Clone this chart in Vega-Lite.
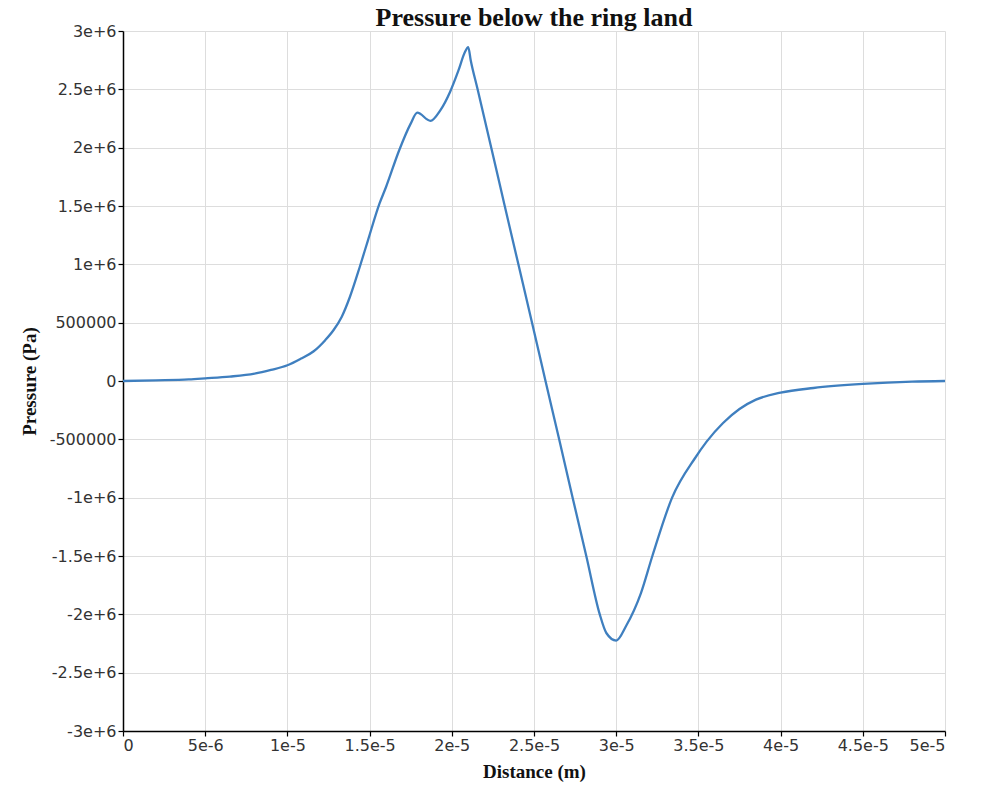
{
  "$schema": "https://vega.github.io/schema/vega-lite/v6.json",
  "width": 822,
  "height": 700,
  "autosize": "none",
  "padding": {"left": 123, "top": 31, "right": 36, "bottom": 55},
  "background": "white",
  "title": {
    "text": "Pressure below the ring land",
    "font": "Liberation Serif",
    "fontSize": 26,
    "fontWeight": "bold",
    "color": "#111",
    "offset": -8,
    "anchor": "middle"
  },
  "config": {
    "view": {"stroke": null},
    "axis": {
      "domainColor": "#000",
      "domainWidth": 1.5,
      "tickColor": "#000",
      "tickSize": 5,
      "tickWidth": 1.2,
      "gridColor": "#dddddd",
      "gridWidth": 1,
      "labelFont": "DejaVu Sans",
      "labelFontSize": 16,
      "labelColor": "#333",
      "titleFont": "Liberation Serif",
      "titleFontSize": 19,
      "titleFontWeight": "bold",
      "titleColor": "#111"
    }
  },
  "data": {
    "values": [
      {"distance": 0.0, "pressure": 0},
      {"distance": 0.000002, "pressure": 6000},
      {"distance": 0.000004, "pressure": 14000},
      {"distance": 0.000005, "pressure": 23000},
      {"distance": 0.0000065, "pressure": 38000},
      {"distance": 0.000008, "pressure": 63000},
      {"distance": 0.000009, "pressure": 95000},
      {"distance": 0.00001, "pressure": 135000},
      {"distance": 0.0000108, "pressure": 190000},
      {"distance": 0.0000116, "pressure": 255000},
      {"distance": 0.0000123, "pressure": 350000},
      {"distance": 0.0000128, "pressure": 435000},
      {"distance": 0.0000133, "pressure": 549000},
      {"distance": 0.0000138, "pressure": 720000},
      {"distance": 0.0000144, "pressure": 977000},
      {"distance": 0.0000149, "pressure": 1206000},
      {"distance": 0.0000156, "pressure": 1520000},
      {"distance": 0.0000160, "pressure": 1663000},
      {"distance": 0.0000168, "pressure": 1978000},
      {"distance": 0.0000175, "pressure": 2206000},
      {"distance": 0.0000179, "pressure": 2300000},
      {"distance": 0.0000187, "pressure": 2230000},
      {"distance": 0.0000193, "pressure": 2320000},
      {"distance": 0.0000199, "pressure": 2480000},
      {"distance": 0.0000204, "pressure": 2660000},
      {"distance": 0.0000208, "pressure": 2820000},
      {"distance": 0.0000210, "pressure": 2862000},
      {"distance": 0.00002115, "pressure": 2750000},
      {"distance": 0.00002157, "pressure": 2500000},
      {"distance": 0.0000224, "pressure": 2000000},
      {"distance": 0.00002322, "pressure": 1500000},
      {"distance": 0.00002405, "pressure": 1000000},
      {"distance": 0.00002488, "pressure": 500000},
      {"distance": 0.0000257, "pressure": 0},
      {"distance": 0.00002653, "pressure": -500000},
      {"distance": 0.00002735, "pressure": -1000000},
      {"distance": 0.00002818, "pressure": -1500000},
      {"distance": 0.000029, "pressure": -2000000},
      {"distance": 0.0000294, "pressure": -2160000},
      {"distance": 0.00003, "pressure": -2225000},
      {"distance": 0.0000306, "pressure": -2100000},
      {"distance": 0.0000315, "pressure": -1820000},
      {"distance": 0.0000322, "pressure": -1500000},
      {"distance": 0.0000334, "pressure": -1000000},
      {"distance": 0.0000348, "pressure": -660000},
      {"distance": 0.0000355, "pressure": -520000},
      {"distance": 0.0000365, "pressure": -360000},
      {"distance": 0.0000375, "pressure": -240000},
      {"distance": 0.0000385, "pressure": -160000},
      {"distance": 0.00004, "pressure": -100000},
      {"distance": 0.000042, "pressure": -60000},
      {"distance": 0.000045, "pressure": -25000},
      {"distance": 0.000048, "pressure": -5000},
      {"distance": 0.00005, "pressure": 0}
    ]
  },
  "mark": {"type": "line", "color": "#3f7fbf", "strokeWidth": 2.3, "interpolate": "monotone"},
  "encoding": {
    "x": {
      "field": "distance",
      "type": "quantitative",
      "title": "Distance (m)",
      "scale": {"domain": [0, 0.00005], "nice": false, "zero": false},
      "axis": {
        "values": [0, 0.000005, 0.00001, 0.000015, 0.00002, 0.000025, 0.00003, 0.000035, 0.00004, 0.000045, 0.00005],
        "labelExpr": "datum.value == 0 ? '0' : replace(format(datum.value, '~e'), '\u2212', '-')",
        "labelPadding": 1,
        "titlePadding": 9
      }
    },
    "y": {
      "field": "pressure",
      "type": "quantitative",
      "title": "Pressure (Pa)",
      "scale": {"domain": [-3000000, 3000000], "nice": false},
      "axis": {
        "values": [-3000000, -2500000, -2000000, -1500000, -1000000, -500000, 0, 500000, 1000000, 1500000, 2000000, 2500000, 3000000],
        "labelExpr": "replace(format(datum.value, '~g'), '\u2212', '-')",
        "labelPadding": 2,
        "titlePadding": 10
      }
    }
  }
}
